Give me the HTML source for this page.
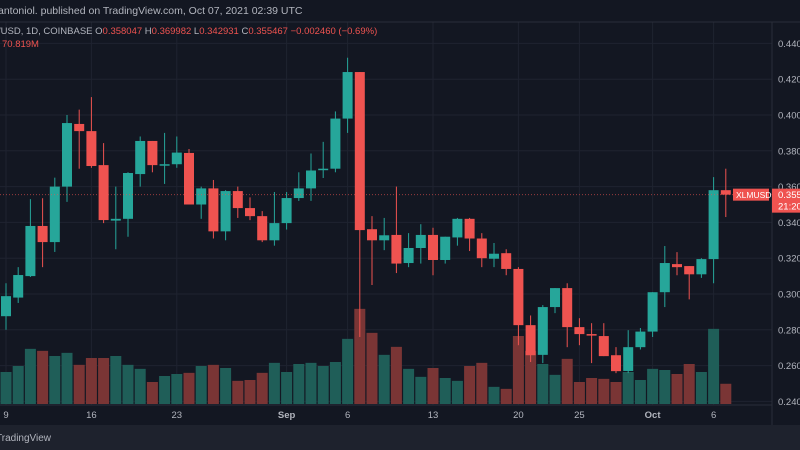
<!DOCTYPE html>
<html><head><meta charset="utf-8">
<style>
html,body{margin:0;padding:0;background:#131722;width:800px;height:450px;overflow:hidden;font-family:"Liberation Sans",sans-serif}
svg text{font-family:"Liberation Sans",sans-serif}
</style></head>
<body>
<svg id="chart" width="800" height="450" xmlns="http://www.w3.org/2000/svg">
<rect x="0" y="0" width="800" height="450" fill="#131722"/>
<g id="grid"></g>
<g id="vols"></g>
<g id="candles"></g>
<g id="axes"></g>
<rect x="0" y="425" width="800" height="25" fill="#1e222d"/>
<text x="-4" y="441" fill="#b2b5be" font-size="10">TradingView</text>
<text x="-2" y="14" fill="#b2b5be" font-size="10.5">antoniol. published on TradingView.com, Oct 07, 2021 02:39 UTC</text>
<text x="-2" y="34" font-size="9.5"><tspan fill="#b2b5be">/USD, 1D, COINBASE  O</tspan><tspan fill="#ef5350">0.358047</tspan><tspan fill="#b2b5be">  H</tspan><tspan fill="#ef5350">0.369982</tspan><tspan fill="#b2b5be">  L</tspan><tspan fill="#ef5350">0.342931</tspan><tspan fill="#b2b5be">  C</tspan><tspan fill="#ef5350">0.355467  −0.002460 (−0.69%)</tspan></text>
<text x="2" y="47" fill="#ef5350" font-size="9.5">70.819M</text>
</svg>
<script>
const opens=[0.2876,0.298,0.310,0.338,0.329,0.360,0.395,0.391,0.372,0.341,0.342,0.367,0.3855,0.372,0.3725,0.3788,0.350,0.359,0.335,0.3575,0.348,0.3435,0.330,0.3396,0.3536,0.359,0.3695,0.370,0.398,0.424,0.3362,0.330,0.333,0.3173,0.3257,0.333,0.319,0.3316,0.342,0.331,0.3197,0.3228,0.314,0.2826,0.266,0.2927,0.3033,0.2815,0.2776,0.2765,0.2658,0.257,0.2703,0.279,0.301,0.3167,0.3156,0.311,0.3195,0.358];
const highs=[0.306,0.315,0.353,0.3535,0.365,0.400,0.403,0.410,0.3843,0.360,0.368,0.388,0.3855,0.390,0.388,0.381,0.360,0.3637,0.358,0.360,0.354,0.3463,0.357,0.357,0.368,0.3785,0.385,0.402,0.432,0.424,0.3435,0.3425,0.360,0.334,0.339,0.337,0.332,0.3425,0.3425,0.334,0.3285,0.325,0.315,0.288,0.2938,0.3033,0.306,0.2865,0.2837,0.2837,0.2703,0.2798,0.281,0.301,0.3268,0.3234,0.3156,0.320,0.3653,0.370];
const lows=[0.280,0.295,0.3095,0.315,0.3235,0.3515,0.370,0.3705,0.3396,0.325,0.332,0.360,0.368,0.3615,0.3705,0.350,0.342,0.331,0.330,0.3425,0.3413,0.329,0.327,0.336,0.352,0.352,0.3648,0.368,0.390,0.276,0.305,0.3245,0.3117,0.315,0.317,0.3105,0.317,0.327,0.324,0.315,0.315,0.3105,0.2714,0.262,0.2614,0.2893,0.2703,0.2714,0.2614,0.2653,0.2558,0.2558,0.269,0.276,0.2927,0.3105,0.297,0.309,0.306,0.343];
const closes=[0.2988,0.3106,0.338,0.329,0.360,0.3955,0.391,0.3715,0.3413,0.342,0.3676,0.3855,0.372,0.3725,0.379,0.350,0.359,0.335,0.3575,0.348,0.3435,0.330,0.3396,0.3536,0.359,0.369,0.370,0.398,0.424,0.3357,0.330,0.3328,0.317,0.3257,0.333,0.319,0.332,0.342,0.331,0.320,0.3225,0.314,0.2826,0.2658,0.2927,0.3033,0.2815,0.2776,0.277,0.2653,0.2569,0.2703,0.279,0.301,0.3173,0.315,0.311,0.3195,0.358,0.3555];
const volumes=[112,133,193,186,168,179,137,161,161,168,137,123,77,98,105,109,133,137,126,81,84,109,144,112,140,144,133,147,228,333,249,172,200,123,95,126,91,81,133,144,60,53,238,186,140,102,158,77,91,88,77,112,84,123,119,105,140,112,263,70.8];
const priceTicks=[0.440,0.420,0.400,0.380,0.360,0.340,0.320,0.300,0.280,0.260,0.240];
const dateLabels=["9","16","23","Sep","6","13","20","25","Oct","6"];
const dateIndex=[0,7,14,23,28,35,42,47,53,58];

const NS="http://www.w3.org/2000/svg";
const X0=6, DX=12.2, PLOT_R=772;
const xs=i=>X0+i*DX;
const ys=p=>115+(0.4-p)*1790;
const VBASE=404, VSCALE=1/3.5;
const yv=v=>VBASE-v*VSCALE;
function mk(tag,attrs,parent){const e=document.createElementNS(NS,tag);for(const k in attrs)e.setAttribute(k,attrs[k]);parent.appendChild(e);return e;}
const grid=document.getElementById('grid'),vols=document.getElementById('vols'),cg=document.getElementById('candles'),ax=document.getElementById('axes');

priceTicks.forEach(p=>{
  const l=mk('line',{x1:0,x2:PLOT_R,y1:ys(p),y2:ys(p),stroke:'#1f2330','stroke-width':1},grid);
  
  
  const t=mk('text',{x:778,y:ys(p)+3.5,fill:'#b2b5be','font-size':9.5},ax);
  t.textContent=p.toFixed(3);
  
  
});
dateIndex.forEach((d,k)=>{
  const l=mk('line',{x1:xs(d),x2:xs(d),y1:22,y2:405,stroke:'#1f2330','stroke-width':1},grid);
  
  
  const lab=dateLabels[k];
  const t=mk('text',{x:xs(d),y:418,fill:'#b2b5be','font-size':9.5,'text-anchor':'middle','font-weight':(lab==='Sep'||lab==='Oct')?'bold':'normal'},ax);
  t.textContent=lab;
  
  
});

opens.forEach((o,i)=>{
  const c=closes[i],up=c>=o,x=xs(i);
  const vb=mk('rect',{x:x-5.5,y:yv(volumes[i]),width:11,height:VBASE-yv(volumes[i]),fill:up?'#1f5e58':'#7a3535'},vols);
  
  
  const col=up?'#26a69a':'#ef5350';
  const w=mk('line',{x1:x,x2:x,y1:ys(highs[i]),y2:ys(lows[i]),stroke:col,'stroke-width':1},cg);
  
  
  const top=ys(Math.max(o,c)),bot=ys(Math.min(o,c));
  const b=mk('rect',{x:x-5,y:top,width:10,height:Math.max(1.5,bot-top),fill:col},cg);
  
  
});

const last=closes[closes.length-1];
const pl=mk('line',{x1:0,x2:PLOT_R,y1:ys(last),y2:ys(last),stroke:'#ef5350','stroke-width':1,'stroke-dasharray':'1,2',opacity:0.6},ax);


mk('line',{x1:PLOT_R,x2:PLOT_R,y1:22,y2:425,stroke:'#2a2e39'},ax);
mk('line',{x1:0,x2:PLOT_R,y1:405,y2:405,stroke:'#2a2e39'},ax);
mk('line',{x1:0,x2:800,y1:22,y2:22,stroke:'#2a2e39'},ax);
const sb=mk('rect',{x:733,y:ys(last)-6,width:36,height:12,fill:'#ef5350'},ax);


const st=mk('text',{x:736,y:ys(last)+3.5,fill:'#fff','font-size':8.5},ax);
st.textContent='XLMUSD';


const pb=mk('rect',{x:772,y:ys(last)-6,width:28,height:24,fill:'#ef5350'},ax);


const pt=mk('text',{x:778,y:ys(last)+3.5,fill:'#fff','font-size':9.5},ax);
pt.textContent=last.toFixed(3);


const ct=mk('text',{x:778,y:ys(last)+15,fill:'#fff','font-size':9.5},ax);
ct.textContent='21:20';


</script>
</body></html>
